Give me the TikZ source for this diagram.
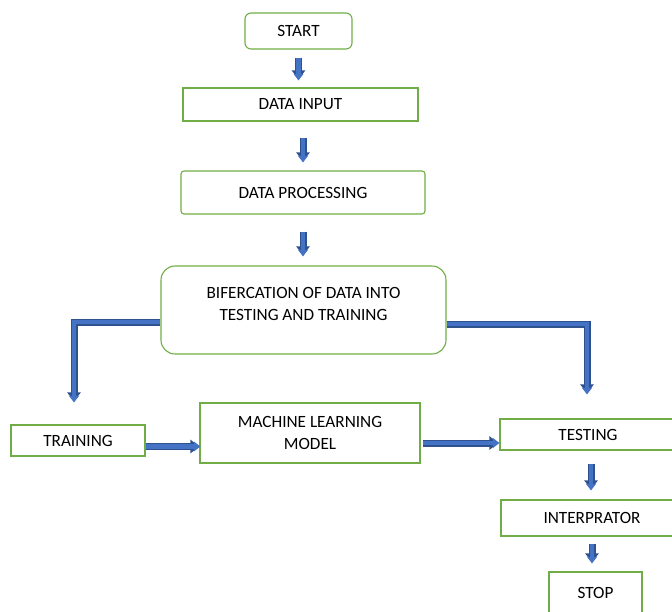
\documentclass[tikz,border=0pt]{standalone}
\usepackage{fontspec}
\setmainfont{Carlito}
\usetikzlibrary{arrows.meta}
\definecolor{boxgreen}{HTML}{70AD47}
\definecolor{arrowblue}{HTML}{4472C4}
\definecolor{arrowedge}{HTML}{2F528F}

\begin{document}
\begin{tikzpicture}[x=1pt,y=-1pt,
		box/.style={draw=boxgreen, line width=1.1pt, inner sep=0pt, align=center,
			font=\fontsize{17.2}{22}\selectfont},
		blockarrow/.style={draw=arrowedge, line width=7pt, miter limit=4,
			-{Triangle[width=13pt,length=9pt]},
			postaction={draw=arrowblue, line width=4.4pt,
				-{Triangle[width=9.5pt,length=6.5pt,sep=-1pt]}}}]
		\useasboundingbox (0,0) rectangle (672,611);
		\node[box, rounded corners=6pt, minimum width=107pt, minimum height=36pt] (start) at (298.5,31) {START};
		\node[box, minimum width=235pt, minimum height=33pt] (input) at (300.5,104.5) {DATA INPUT};
		\node[box, rounded corners=3pt, minimum width=244pt, minimum height=43pt] (proc) at (303,192.5) {DATA PROCESSING};
		\node[box, rounded corners=14pt, minimum width=285pt, minimum height=88pt] (bif) at (303.5,310) {BIFERCATION OF DATA INTO\\TESTING AND TRAINING\\[-10pt]};
		\node[box, minimum width=134pt, minimum height=31pt] (train) at (78,440.5) {TRAINING};
		\node[box, minimum width=220pt, minimum height=60pt] (ml) at (310,433) {MACHINE LEARNING\\MODEL};
		\node[box, minimum width=176pt, minimum height=31pt] (test) at (588,434.5) {TESTING};
		\node[box, minimum width=182pt, minimum height=36pt] (interp) at (592,518) {INTERPRATOR};
		\node[box, minimum width=93pt, minimum height=42pt] (stop) at (595.5,593) {STOP};

		\draw[blockarrow, shorten <=8pt, shorten >=8pt] (start.south) -- (start.south |- input.north);
		\draw[blockarrow, shorten <=16pt, shorten >=9pt] (input.south -| proc.north) -- (proc.north);
		\draw[blockarrow, shorten <=17pt, shorten >=10pt] (proc.south) -- (proc.south |- bif.north);
		% split to the two sides
		\draw[blockarrow, shorten >=23pt] ([yshift=-12pt]bif.west) -| ([xshift=-4pt]train.north);
		\draw[blockarrow, shorten >=25pt] ([yshift=-14pt]bif.east) -| ([xshift=-1pt]test.north);
		\draw[blockarrow] ([yshift=-6pt]train.east) -- ([yshift=-6pt]train.east -| ml.west);
		\draw[blockarrow, shorten <=2pt, shorten >=1pt] ([yshift=-10pt]ml.east) -- ([yshift=-10pt]ml.east -| test.west);
		\draw[blockarrow, shorten <=13pt, shorten >=10pt] ([xshift=3pt]test.south) -- ([xshift=3pt]test.south |- interp.north);
		\draw[blockarrow, shorten <=7pt, shorten >=9pt] (interp.south) -- (interp.south |- stop.north);

	\end{tikzpicture}
\end{document}
